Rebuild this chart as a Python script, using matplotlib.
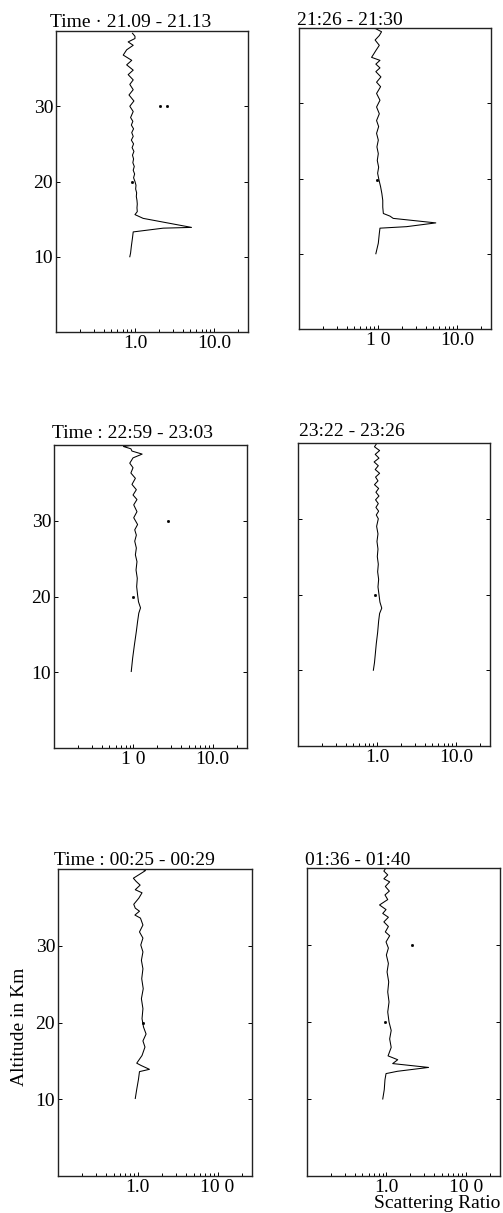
import matplotlib
matplotlib.use("Agg")
import matplotlib.pyplot as plt
from matplotlib.ticker import LogLocator, NullFormatter

plt.rcParams['font.family'] = ['Liberation Serif', 'DejaVu Serif']

# ---------------- data (altitude km, scattering ratio) ----------------
titles = ["Time \u00b7 21.09 - 21.13", "21:26 - 21:30",
          "Time : 22:59 - 23:03", "23:22 - 23:26",
          "Time : 00:25 - 00:29", "01:36 - 01:40"]

xtick_labels = [["1.0", "10.0"], ["1 0", "10.0"],
                ["1 0", "10.0"], ["1.0", "10.0"],
                ["1.0", "10 0"], ["1.0", "10 0"]]

alt_1 = [39.7, 39.3, 39.0, 38.55, 38.1, 37.5, 36.8, 36.1, 35.5, 34.8, 34.2, 33.5,
         32.9, 32.2, 31.5, 30.7, 30.0, 29.3, 28.5, 28.0, 27.5, 27.0, 26.5, 26.0,
         25.5, 25.0, 24.5, 24.0, 23.5, 23.0, 22.5, 22.0, 21.5, 21.0, 20.5, 20.0,
         19.5, 19.0, 18.5, 18.0, 17.5, 17.0, 16.5, 16.0, 15.6, 15.1, 13.9, 13.8,
         13.3, 12.5, 11.4, 10.5, 10.0]
sr_1 = [0.93, 1.0, 1.0, 0.82, 0.95, 0.785, 0.71, 0.91, 0.785, 0.95, 0.82, 0.95,
        0.86, 0.95, 0.84, 0.97, 0.86, 0.95, 0.88, 0.94, 0.90, 0.96, 0.91, 0.95,
        0.90, 0.96, 0.92, 0.97, 0.93, 0.96, 0.94, 0.98, 0.95, 0.99, 0.96, 1.0,
        1.03, 1.02, 1.05, 1.04, 1.06, 1.07, 1.06, 1.07, 1.0, 1.27, 5.2, 2.28,
        0.95, 0.93, 0.90, 0.88, 0.86]

alt_2 = [39.9, 39.5, 39.0, 38.4, 37.7, 37.0, 36.6, 36.1, 35.7, 35.2, 34.7, 34.2,
         33.5, 32.8, 32.2, 31.3, 30.4, 29.5, 28.6, 27.7, 26.9, 26.0, 25.1, 24.2,
         23.3, 22.4, 21.5, 20.7, 19.8, 18.9, 18.0, 17.1, 16.2, 15.35, 15.0, 14.7,
         14.1, 13.6, 13.4, 12.7, 11.4, 10.0]
sr_2 = [0.94, 1.11, 1.04, 0.92, 1.04, 0.94, 0.89, 0.83, 1.06, 0.94, 1.06, 0.94,
        1.09, 0.96, 1.08, 0.96, 1.06, 0.96, 1.04, 0.96, 1.02, 0.96, 1.01, 0.97,
        1.01, 0.98, 1.02, 0.99, 1.03, 1.08, 1.12, 1.15, 1.15, 1.17, 1.42, 1.56,
        5.4, 2.3, 1.06, 1.04, 1.01, 0.94]

alt_3 = [40.0, 39.8, 39.5, 39.2, 38.8, 38.3, 37.6, 37.0, 36.3, 35.6, 34.8, 34.1,
         33.4, 32.8, 32.1, 31.2, 30.4, 29.5, 28.8, 28.1, 27.3, 26.4, 25.5, 24.6,
         23.5, 22.4, 21.3, 20.2, 19.3, 18.5, 17.8, 16.7, 15.4, 13.6, 11.9, 10.1]
sr_3 = [0.99, 0.75, 0.93, 0.96, 1.29, 0.99, 0.90, 0.99, 0.93, 1.06, 0.96, 1.09,
        0.99, 1.11, 1.01, 1.11, 1.01, 1.13, 1.04, 1.09, 1.04, 1.09, 1.06, 1.11,
        1.08, 1.12, 1.10, 1.13, 1.16, 1.23, 1.17, 1.13, 1.09, 1.03, 0.98, 0.94]

alt_4 = [40.0, 39.5, 39.0, 38.5, 38.0, 37.5, 37.0, 36.5, 36.0, 35.5, 35.0, 34.5,
         34.0, 33.5, 33.0, 32.5, 32.0, 31.5, 31.0, 30.5, 30.0, 29.0, 28.0, 27.0,
         26.0, 25.0, 24.0, 23.0, 22.0, 21.0, 20.0, 19.0, 18.2, 17.5, 16.5, 15.0,
         13.5, 12.0, 11.0, 10.0]
sr_4 = [1.0, 0.93, 1.08, 0.95, 1.06, 0.92, 1.04, 0.95, 1.08, 0.96, 1.03, 0.93,
        1.05, 0.97, 1.06, 0.96, 1.04, 0.97, 1.05, 0.98, 1.04, 0.99, 1.03, 1.0,
        1.03, 1.01, 1.04, 1.02, 1.05, 1.03, 1.06, 1.09, 1.15, 1.08, 1.05, 1.02,
        0.98, 0.95, 0.93, 0.90]

alt_5 = [40.2, 39.8, 39.3, 38.8, 38.4, 37.9, 37.3, 36.9, 36.2, 35.4, 34.9, 34.5,
         34.0, 33.6, 32.7, 31.8, 31.0, 30.1, 29.2, 28.1, 27.0, 25.7, 24.4, 23.1,
         21.8, 20.5, 19.4, 18.5, 17.6, 16.8, 15.7, 14.7, 14.4, 13.9, 13.6, 12.6,
         11.3, 10.1]
sr_5 = [1.0, 1.25, 1.05, 0.88, 0.95, 1.07, 0.93, 1.13, 1.03, 0.89, 0.93, 1.05,
        0.92, 1.08, 1.16, 1.05, 1.16, 1.09, 1.16, 1.11, 1.16, 1.12, 1.17, 1.11,
        1.16, 1.13, 1.18, 1.27, 1.16, 1.23, 1.13, 0.97, 1.10, 1.40, 1.05, 1.02,
        0.97, 0.93]

alt_6 = [40.1, 39.6, 39.1, 38.6, 38.2, 37.6, 37.0, 36.5, 35.9, 35.2, 34.6, 34.1,
         33.6, 33.0, 32.4, 31.7, 31.2, 30.4, 29.6, 28.7, 27.6, 26.5, 25.2, 23.9,
         22.6, 21.3, 20.0, 18.9, 17.8, 16.7, 15.6, 15.1, 14.6, 14.1, 13.6, 13.3,
         12.5, 11.2, 10.0]
sr_6 = [1.0, 0.93, 1.04, 0.93, 1.10, 0.97, 1.09, 0.96, 1.04, 0.82, 0.99, 0.90,
        1.06, 0.93, 1.06, 0.97, 1.10, 0.99, 1.06, 1.0, 1.06, 1.02, 1.07, 1.04,
        1.08, 1.04, 1.08, 1.15, 1.10, 1.15, 1.05, 1.39, 1.20, 3.4, 1.38, 0.99,
        0.96, 0.94, 0.90]

# isolated stray points (ratio, altitude)
dots_x = [[2.07, 2.52, 0.91], [0.96], [2.7, 0.99], [0.95], [1.16], [2.13, 0.97]]
dots_y = [[30.0, 30.0, 20.0], [19.8], [30.0, 20.0], [20.0], [20.0], [30.0, 20.0]]

profiles = [(alt_1, sr_1), (alt_2, sr_2), (alt_3, sr_3),
            (alt_4, sr_4), (alt_5, sr_5), (alt_6, sr_6)]

# ---------------- layout ----------------
W, H = 503, 1213
FS = 14
# pixel boxes: (x0, y0, x1, y1)
boxes = [(56, 31, 248, 332), (299, 28, 491, 329),
         (54, 445, 247, 748), (298, 443, 490, 746),
         (58, 869, 252, 1176), (307, 868, 500, 1176)]
title_pos = [(50, 27), (297, 25), (52, 438), (299, 436), (54, 865), (305, 865)]

fig = plt.figure(figsize=(W / 100, H / 100), dpi=100)

for i, (box, (alt, sr)) in enumerate(zip(boxes, profiles)):
    x0, y0, x1, y1 = box
    ax = fig.add_axes([x0 / W, 1 - y1 / H, (x1 - x0) / W, (y1 - y0) / H])
    ax.plot(sr, alt, color='black', lw=0.75)
    ax.plot(dots_x[i], dots_y[i], linestyle='none', marker='s', ms=1.0,
            color='black')
    ax.set_xscale('log')
    ax.set_xlim(0.1, 27)
    ax.set_ylim(0, 40)
    ax.set_xticks([1, 10])
    ax.set_xticklabels(xtick_labels[i])
    ax.xaxis.set_minor_locator(LogLocator(base=10, subs=range(2, 10)))
    ax.xaxis.set_minor_formatter(NullFormatter())
    ax.set_yticks([10, 20, 30])
    if i % 2 == 0:
        ax.set_yticklabels(["10", "20", "30"])
    else:
        ax.set_yticklabels([])
    ax.tick_params(which='both', direction='in', right=True, top=False,
                   width=0.7, labelsize=FS, pad=2)
    ax.tick_params(which='major', length=3)
    ax.tick_params(which='minor', length=2)
    for s in ax.spines.values():
        s.set_linewidth(1.0)
        s.set_color('#222222')
    tx, ty = title_pos[i]
    fig.text(tx / W, 1 - ty / H, titles[i], fontsize=FS, ha='left',
             va='baseline')

fig.text(20 / W, 1 - 1027 / H, "Altitude in Km", rotation=90, fontsize=FS,
         ha='center', va='center')
fig.text(437 / W, 1 - 1204 / H, "Scattering Ratio", fontsize=FS,
         ha='center', va='center')

fig.savefig("out.png", dpi=100)
